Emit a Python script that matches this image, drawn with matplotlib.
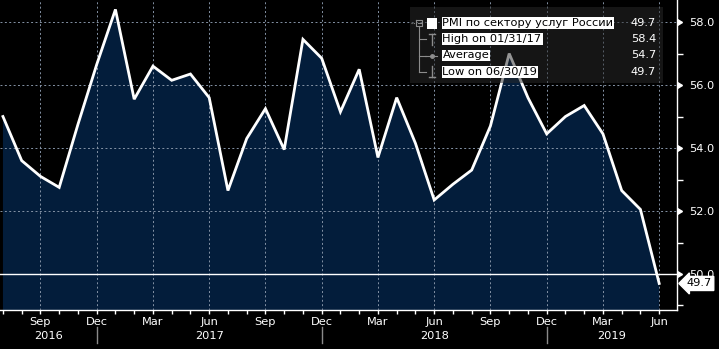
import matplotlib
matplotlib.use("Agg")
import matplotlib.pyplot as plt
import numpy as np
import pandas as pd
from matplotlib.lines import Line2D
from matplotlib.patches import Rectangle

plt.rcParams['font.family'] = ['DejaVu Sans']

# ========= DATOS =========
fechas = pd.date_range("2016-07-31", periods=36, freq="ME")
pmi = [55.0, 53.6, 53.1, 52.75, 54.75, 56.65,
       58.4, 55.55, 56.6, 56.15, 56.35, 55.6,
       52.65, 54.3, 55.25, 53.95, 57.45, 56.85,
       55.15, 56.5, 53.7, 55.6, 54.15, 52.35,
       52.85, 53.3, 54.7, 57.0, 55.6, 54.45,
       55.0, 55.35, 54.45, 52.65, 52.05, 49.7]
serie = "PMI по сектору услуг России"
y_ticks = [50, 52, 54, 56, 58]

W_PX, H_PX = 719, 349
FONDO = '#000000'
RELLENO = '#031d3b'
REJILLA = '#8593a6'
FS = 8.2

def fx(px):
    return px / W_PX

def fy(py):
    return 1 - py / H_PX

fig = plt.figure(figsize=(W_PX / 100, H_PX / 100), dpi=100, facecolor=FONDO)
ax = fig.add_axes([0, 1 - 310 / H_PX, 677 / W_PX, 310 / H_PX])
ax.set_facecolor(FONDO)

x = np.arange(len(pmi))
ax.fill_between(x, pmi, 40, color=RELLENO, zorder=1, linewidth=0)
ax.plot(x, pmi, color='white', lw=2.0, zorder=3, solid_joinstyle='miter')
ax.axhline(50, color='white', lw=1.0, zorder=2.8)

ax.set_xlim(-0.157, 35.95)
ax.set_ylim(48.857, 58.70)

# ---------- eje X ----------
meses = fechas.strftime('%b')
mayores = [i for i, f in enumerate(fechas) if f.month in (3, 6, 9, 12)]
ax.set_xticks(mayores)
ax.set_xticklabels([meses[i] for i in mayores])
ax.set_xticks(x, minor=True)
ax.tick_params(axis='x', which='both', colors='white', length=3, width=1,
               labelsize=FS, pad=2, direction='out')

# separadores de año y etiquetas de año
diciembres = [i for i, f in enumerate(fechas) if f.month == 12]
lims = [ax.get_xlim()[0]] + [float(d) for d in diciembres] + [ax.get_xlim()[1]]
anios = sorted(set(fechas.year))
for d in diciembres:
    ax.plot([d, d], [-0.055, -0.106], color='#8a8a8a', lw=1,
            transform=ax.get_xaxis_transform(), clip_on=False)
for k, an in enumerate(anios):
    ax.text((lims[k] + lims[k + 1]) / 2, -0.084, str(an), color='white',
            fontsize=FS, ha='center', va='center',
            transform=ax.get_xaxis_transform())

# ---------- eje Y ----------
ax.yaxis.tick_right()
ax.set_yticks(y_ticks)
ax.set_yticklabels([f"{v:.1f}" for v in y_ticks])
ax.set_yticks(np.arange(49, 59, 2), minor=True)
ax.tick_params(axis='y', which='major', colors='white', length=0, labelsize=FS, pad=9)
ax.tick_params(axis='y', which='minor', colors='white', length=4, width=1)
ax.plot([1.0] * len(y_ticks), y_ticks, linestyle='none', marker=9, markersize=5,
        color='white', transform=ax.get_yaxis_transform(), clip_on=False)

for lado in ['left', 'top']:
    ax.spines[lado].set_visible(False)
for lado in ['right', 'bottom']:
    ax.spines[lado].set_color('white')
    ax.spines[lado].set_linewidth(1.0)

ax.grid(True, which='major', color=REJILLA, linestyle=(0, (2, 2.5)), linewidth=0.7)
ax.set_axisbelow(False)

# último valor
ax.text(1.014, pmi[-1], f"{pmi[-1]:.1f}", transform=ax.get_yaxis_transform(),
        ha='left', va='center', color='black', fontsize=FS, zorder=10, clip_on=False,
        bbox=dict(boxstyle='larrow,pad=0.18', fc='white', ec='white'))

# ---------- LEYENDA ----------
fig.add_artist(Rectangle((fx(410), fy(83)), fx(663) - fx(410), fy(7) - fy(83),
                         transform=fig.transFigure, facecolor='#2a2a2a', alpha=0.5,
                         edgecolor='none', zorder=5))

imax = int(np.argmax(pmi))
imin = int(np.argmin(pmi))
filas = [
    (serie, pmi[-1]),
    (f"High on {fechas[imax].strftime('%m/%d/%y')}", pmi[imax]),
    ("Average", np.mean(pmi)),
    (f"Low on {fechas[imin].strftime('%m/%d/%y')}", pmi[imin]),
]
filas_y = [23.3, 39.3, 55.5, 71.7]
for (txt, val), py in zip(filas, filas_y):
    fig.text(fx(442.5), fy(py), txt, color='black', fontsize=FS, ha='left', va='center',
             zorder=7, bbox=dict(boxstyle='square,pad=0.08', fc='white', ec='none'))
    fig.text(fx(656), fy(py), f"{val:.1f}", color='white', fontsize=FS,
             ha='right', va='center', zorder=7)

gris = '#8c8c8c'
def linea(xs, ys, **kw):
    fig.add_artist(Line2D([fx(v) for v in xs], [fy(v) for v in ys],
                          transform=fig.transFigure, zorder=6, **kw))

# árbol
linea([416, 422, 422, 416, 416], [20, 20, 26, 26, 20], color=gris, lw=0.8)
linea([417.5, 420.5], [23, 23], color=gris, lw=0.8)
linea([411, 416], [23, 23], color=gris, lw=0.8, linestyle=(0, (1, 1)))
linea([419, 419], [26, 71.7], color=gris, lw=0.8)
for py in filas_y[1:]:
    linea([419, 426], [py, py], color=gris, lw=0.8)
# cuadro blanco de la serie
fig.add_artist(Rectangle((fx(427), fy(28.5)), fx(437.5) - fx(427), fy(17.5) - fy(28.5),
                         transform=fig.transFigure, facecolor='white',
                         edgecolor='none', zorder=6))
# máximo
linea([431.5, 431.5], [34, 45], color=gris, lw=1.0)
linea([428.5, 434.5], [34, 34], color=gris, lw=1.0)
# promedio
linea([425, 437], [55.5, 55.5], color=gris, lw=0.8)
fig.add_artist(Line2D([fx(431.5)], [fy(55.5)], marker='o', markersize=2.5,
                      color=gris, transform=fig.transFigure, zorder=6))
# mínimo
linea([431.5, 431.5], [66, 77], color=gris, lw=1.0)
linea([428.5, 434.5], [77, 77], color=gris, lw=1.0)

fig.savefig("out.png", dpi=100, facecolor=FONDO)
